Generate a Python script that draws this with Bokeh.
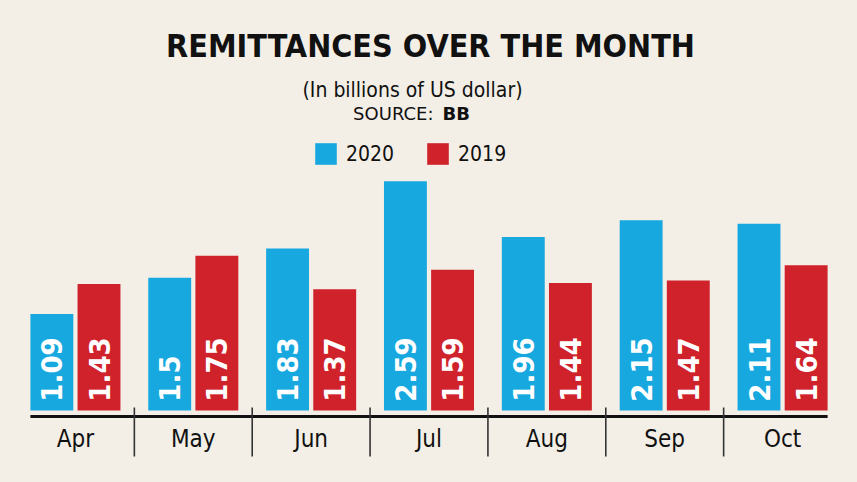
import math
from bokeh.plotting import figure
from bokeh.models import (ColumnDataSource, FactorRange, Range1d, CategoricalAxis,
                          Label, Legend, LegendItem)
from bokeh.transform import dodge
from bokeh.core.properties import value
from bokeh.embed import file_html
from bokeh.resources import INLINE

# ---------------- data ----------------
months = ["Apr", "May", "Jun", "Jul", "Aug", "Sep", "Oct"]
remit_2020 = [1.09, 1.5, 1.83, 2.59, 1.96, 2.15, 2.11]
remit_2019 = [1.43, 1.75, 1.37, 1.59, 1.44, 1.47, 1.64]
series_names = ["2020", "2019"]

TITLE = "REMITTANCES OVER THE MONTH"
SUBTITLE = "(In billions of US dollar)"
SOURCE_LABEL = "SOURCE:"
SOURCE_NAME = "BB"

# ---------------- style ----------------
BG = "#f3efe7"
BLUE = "#17a8e0"
RED = "#d0222b"
INK = "#111111"
COND = "DejaVu Sans Condensed"
WIDE = "DejaVu Sans"

W, H = 841, 466
ML, MR = 16, 0
PAGE = 0
CAT_PX = (W - ML - MR) / len(months)
ZERO_PAGE_Y = 410
PX_PER_UNIT = 88.5

def fx(page_x):
    return (page_x - PAGE - ML) / CAT_PX

def fy(page_y):
    return (ZERO_PAGE_Y - page_y) / PX_PER_UNIT

y_top = fy(PAGE)
y_bottom = fy(PAGE + H)

BAR_W = 0.364
OFF = 0.2

p = figure(width=W, height=H,
           x_range=FactorRange(*months, range_padding=0),
           y_range=Range1d(y_bottom, y_top),
           output_backend="svg", toolbar_location=None,
           x_axis_location=None, y_axis_location=None,
           min_border_left=ML, min_border_right=MR,
           min_border_top=0, min_border_bottom=0,
           background_fill_color=BG, border_fill_color=BG,
           outline_line_color=None)
p.grid.visible = False

try:
    from bokeh.models import GlobalInlineStyleSheet
    p.stylesheets = [GlobalInlineStyleSheet(css="body { background-color: %s; }" % BG)]
except Exception:
    pass

src = ColumnDataSource(dict(
    month=months,
    v2020=remit_2020,
    v2019=remit_2019,
    t2020=[f"{v:g}" for v in remit_2020],
    t2019=[f"{v:g}" for v in remit_2019],
))

r1 = p.vbar(x=dodge("month", -OFF, range=p.x_range), top="v2020", bottom=0,
            width=BAR_W, source=src, fill_color=BLUE, line_color=None)
r2 = p.vbar(x=dodge("month", OFF, range=p.x_range), top="v2019", bottom=0,
            width=BAR_W, source=src, fill_color=RED, line_color=None)

LABEL_Y = 0.1
for col, off in (("t2020", -OFF), ("t2019", OFF)):
    p.text(x=dodge("month", off, range=p.x_range), y=LABEL_Y, text=col,
           angle=math.pi / 2, text_align="left", text_baseline="middle",
           text_color="white", text_font=value(COND), text_font_style="bold",
           text_font_size="29px", source=src)

# baseline and separators
axis_y = fy(416)
first_left = 0.5 - OFF - BAR_W / 2
last_right = len(months) - 0.5 + OFF + BAR_W / 2
p.segment(x0=[first_left], x1=[last_right], y0=[axis_y], y1=[axis_y],
          line_color=INK, line_width=3)
bounds = list(range(1, len(months)))
p.segment(x0=bounds, x1=bounds, y0=[fy(407)] * len(bounds), y1=[fy(456)] * len(bounds),
          line_color="#333333", line_width=1.6)

ax = CategoricalAxis(fixed_location=axis_y)
ax.axis_line_color = None
ax.major_tick_line_color = None
ax.minor_tick_line_color = None
ax.major_tick_out = 0
ax.major_label_standoff = 8
ax.major_label_text_font = COND
ax.major_label_text_font_size = "24px"
ax.major_label_text_color = INK
p.add_layout(ax, "below")

# titles
p.add_layout(Label(x=fx(430), y=fy(45), text=TITLE, text_align="center",
                   text_baseline="alphabetic", text_font=COND, text_font_style="bold",
                   text_font_size="32px", text_color=INK))
p.add_layout(Label(x=fx(412), y=fy(89), text=SUBTITLE, text_align="center",
                   text_baseline="alphabetic", text_font=COND,
                   text_font_size="21px", text_color=INK))
p.add_layout(Label(x=fx(433), y=fy(113), text=SOURCE_LABEL, text_align="right",
                   text_baseline="alphabetic", text_font=WIDE,
                   text_font_size="18px", text_color=INK))
p.add_layout(Label(x=fx(442), y=fy(113), text=SOURCE_NAME, text_align="left",
                   text_baseline="alphabetic", text_font=WIDE, text_font_style="bold",
                   text_font_size="18px", text_color=INK))

legend = Legend(items=[LegendItem(label=series_names[0], renderers=[r1]),
                       LegendItem(label=series_names[1], renderers=[r2])],
                orientation="horizontal", location=(296, 299),
                glyph_width=27, glyph_height=27, label_standoff=7, spacing=30,
                padding=0, margin=0, border_line_color=None,
                background_fill_alpha=0, label_text_font=COND,
                label_text_font_size="21px", label_text_color=INK)
p.add_layout(legend)

open("out.html", "w").write(file_html(p, INLINE))
